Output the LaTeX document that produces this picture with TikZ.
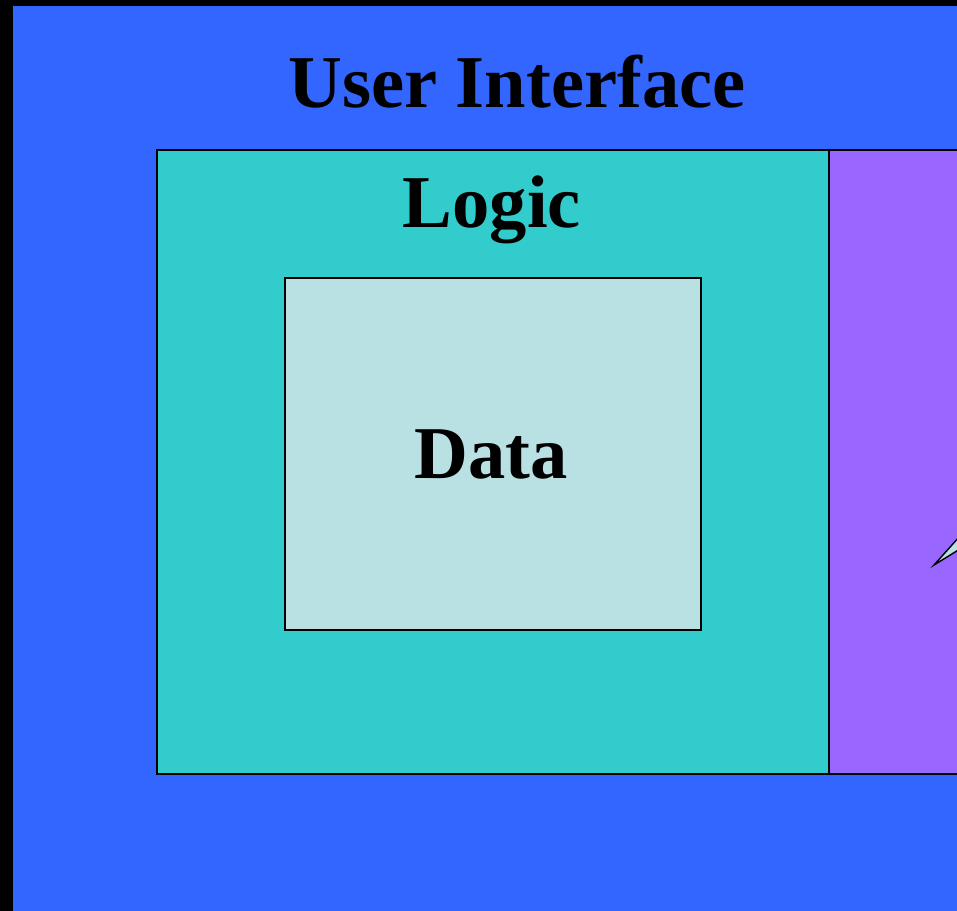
\documentclass[tikz,border=0pt]{standalone}
\usepackage{fontspec}
\setmainfont{Liberation Serif}
\usetikzlibrary{positioning}

\definecolor{uiblue}{HTML}{3366FF}
\definecolor{logicteal}{HTML}{33CCCC}
\definecolor{datacyan}{HTML}{B9E0E3}
\definecolor{sidepurple}{HTML}{9966FF}

\tikzset{
  layer/.style={draw=black, line width=1.2pt, inner sep=0pt, anchor=north west},
  title/.style={font=\fontsize{53}{58}\selectfont\bfseries, inner sep=0pt, anchor=base}
}

\begin{document}
\begin{tikzpicture}[x=0.025cm, y=-0.025cm]
      \useasboundingbox (0,0) rectangle (957,911);
      \clip (0,0) rectangle (957,911);
      \fill[black] (0,0) rectangle (957,911);
      \fill[uiblue] (13,6) rectangle (957,911);

      \node[layer, fill=logicteal, minimum width=672*0.025cm, minimum height=624*0.025cm] (logic) at (156,149) {};
      \node[layer, fill=sidepurple, minimum width=140*0.025cm, minimum height=624*0.025cm] (side) at (828,149) {};
      \node[layer, fill=datacyan, minimum width=416*0.025cm, minimum height=352*0.025cm] (data) at (284,277) {};

      \node[title] (uilabel) at (517,108) {User Interface};
      \node[title] (logiclabel) at (492,228) {Logic};
      \node[title] (datalabel) at (491,478) {Data};

      % pointer from the right edge
      \filldraw[fill=datacyan, draw=black, line width=1pt] (934,565) -- (960,536) -- (960,549) -- cycle;
    \end{tikzpicture}
\end{document}
